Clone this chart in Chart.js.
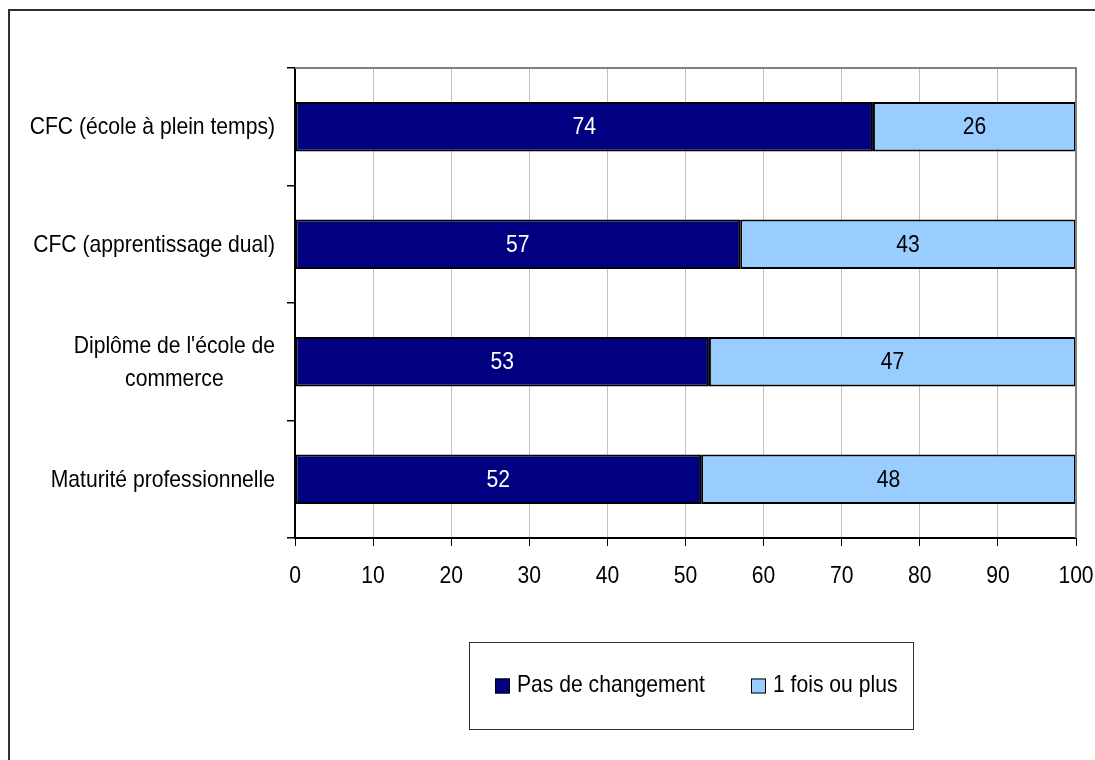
<!DOCTYPE html>
<html>
<head>
<meta charset="utf-8">
<script src="https://cdn.jsdelivr.net/npm/chart.js@4.4.1/dist/chart.umd.min.js"></script>
<style>
  html, body { margin: 0; padding: 0; background: #fff; }
  #wrap { width: 1095px; height: 760px; position: relative; }
</style>
</head>
<body>
<div id="wrap"><canvas id="chart" width="1095" height="760"></canvas></div>
<script>
// Catégories (de haut en bas)
const categories = [
    ['CFC (école à plein temps)'],
    ['CFC (apprentissage dual)'],
    ["Diplôme de l'école de", 'commerce'],
    ['Maturité professionnelle']
];
const seriesNames = ['Pas de changement', '1 fois ou plus'];
const pasDeChangement = [74, 57, 53, 52];
const uneFoisOuPlus = [26, 43, 47, 48];
const xTicks = [0, 10, 20, 30, 40, 50, 60, 70, 80, 90, 100];

const colors = ['#000080', '#99CCFF'];
const labelColors = ['#ffffff', '#000000'];
const FONT = "'Liberation Sans', Arial, sans-serif";
const FONT_SIZE = 24;
const NARROW = 0.88; // police étroite simulée

// Texte condensé horizontalement
function narrowText(ctx, text, x, y, align) {
    ctx.save();
    ctx.translate(x, y);
    ctx.scale(NARROW, 1);
    ctx.textAlign = align || 'center';
    ctx.textBaseline = 'middle';
    ctx.fillText(text, 0, 0);
    ctx.restore();
}

function narrowWidth(ctx, text) {
    return ctx.measureText(text).width * NARROW;
}

// Cadre extérieur + bordures haut/droite de la zone de tracé
const framePlugin = {
    id: 'frame',
    beforeDraw(chart) {
        const ctx = chart.ctx;
        ctx.save();
        ctx.fillStyle = '#fff';
        ctx.fillRect(0, 0, chart.width, chart.height);
        ctx.strokeStyle = '#303030';
        ctx.lineWidth = 2;
        ctx.beginPath();
        ctx.moveTo(9, chart.height + 5);
        ctx.lineTo(9, 10);
        ctx.lineTo(chart.width + 5, 10);
        ctx.stroke();
        ctx.restore();
    },
    afterDatasetsDraw(chart) {
        const a = chart.chartArea;
        const ctx = chart.ctx;
        ctx.save();
        ctx.strokeStyle = '#808080';
        ctx.lineWidth = 2;
        ctx.beginPath();
        ctx.moveTo(a.left, a.top);
        ctx.lineTo(a.right, a.top);
        ctx.lineTo(a.right, a.bottom);
        ctx.stroke();
        ctx.restore();
    }
};

// Étiquettes des axes : catégories (bloc aligné à droite, lignes centrées) et graduations
const axisLabelsPlugin = {
    id: 'axisLabels',
    afterDraw(chart) {
        const ctx = chart.ctx;
        const yScale = chart.scales.y;
        const xScale = chart.scales.x;
        const lineHeight = 33;
        const right = yScale.right - 20;
        ctx.save();
        ctx.font = FONT_SIZE + 'px ' + FONT;
        ctx.fillStyle = '#000';
        categories.forEach((lines, i) => {
            const y = yScale.getPixelForTick(i) + 1;
            const maxW = Math.max(...lines.map(l => narrowWidth(ctx, l)));
            const cx = right - maxW / 2;
            const y0 = y - (lines.length - 1) * lineHeight / 2;
            lines.forEach((l, j) => narrowText(ctx, l, cx, y0 + j * lineHeight, 'center'));
        });
        xTicks.forEach(v => {
            narrowText(ctx, String(v), xScale.getPixelForValue(v), xScale.top + 38, 'center');
        });
        ctx.restore();
    }
};

// Valeurs au centre de chaque segment
const valueLabelsPlugin = {
    id: 'valueLabels',
    afterDatasetsDraw(chart) {
        const ctx = chart.ctx;
        ctx.save();
        ctx.font = FONT_SIZE + 'px ' + FONT;
        chart.data.datasets.forEach((ds, di) => {
            ctx.fillStyle = labelColors[di];
            chart.getDatasetMeta(di).data.forEach((el, i) => {
                narrowText(ctx, String(ds.data[i]), (el.x + el.base) / 2, el.y + 1, 'center');
            });
        });
        ctx.restore();
    }
};

// Légende encadrée sous le graphique
const boxLegendPlugin = {
    id: 'boxLegend',
    afterDraw(chart) {
        const ctx = chart.ctx;
        const box = { x: 469, y: 642, w: 444, h: 87 };
        const itemX = [495, 751];
        const cy = box.y + box.h / 2;
        ctx.save();
        ctx.strokeStyle = '#303030';
        ctx.lineWidth = 1;
        ctx.strokeRect(box.x + 0.5, box.y + 0.5, box.w, box.h);
        ctx.font = FONT_SIZE + 'px ' + FONT;
        chart.data.datasets.forEach((ds, i) => {
            const x = itemX[i];
            ctx.fillStyle = ds.backgroundColor;
            ctx.fillRect(x, cy - 7, 15, 15);
            ctx.strokeStyle = '#000';
            ctx.strokeRect(x + 0.5, cy - 6.5, 14, 14);
            ctx.fillStyle = '#000';
            narrowText(ctx, ds.label, x + 22, cy, 'left');
        });
        ctx.restore();
    }
};

new Chart(document.getElementById('chart'), {
    type: 'bar',
    data: {
        labels: categories.map(c => c.join(' ')),
        datasets: [
            { label: seriesNames[0], data: pasDeChangement, backgroundColor: colors[0] },
            { label: seriesNames[1], data: uneFoisOuPlus, backgroundColor: colors[1] }
        ].map(ds => Object.assign(ds, {
            borderColor: '#000',
            borderWidth: 2,
            borderSkipped: false,
            barPercentage: 0.42,
            categoryPercentage: 1
        }))
    },
    options: {
        indexAxis: 'y',
        responsive: false,
        animation: false,
        events: [],
        layout: { padding: { top: 68, right: 19, bottom: 162, left: 0 } },
        scales: {
            x: {
                stacked: true,
                min: 0,
                max: 100,
                afterBuildTicks(scale) {
                    scale.ticks = xTicks.map(v => ({ value: v }));
                },
                afterFit(scale) { scale.height = 60; },
                grid: {
                    color: '#c0c0c0',
                    lineWidth: 1,
                    tickColor: '#000',
                    tickLength: 8
                },
                border: { color: '#000', width: 2 },
                ticks: { display: false }
            },
            y: {
                stacked: true,
                afterFit(scale) { scale.width = 295; },
                grid: {
                    offset: true,
                    drawOnChartArea: false,
                    tickColor: '#000',
                    tickLength: 8,
                    lineWidth: 1.5
                },
                border: { color: '#000', width: 2 },
                ticks: { display: false }
            }
        },
        plugins: {
            legend: { display: false },
            tooltip: { enabled: false }
        }
    },
    plugins: [framePlugin, axisLabelsPlugin, valueLabelsPlugin, boxLegendPlugin]
});
</script>
</body>
</html>
